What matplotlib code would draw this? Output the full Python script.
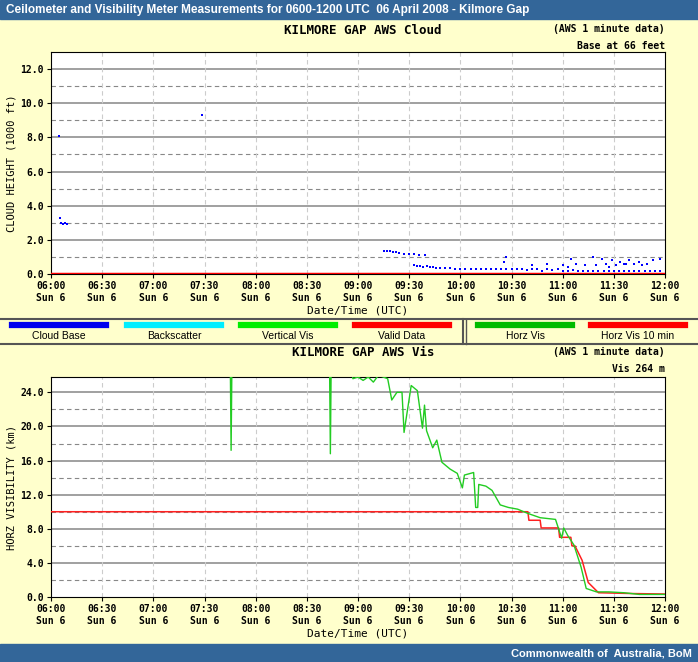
import matplotlib
matplotlib.use('Agg')
import matplotlib.pyplot as plt
import numpy as np

# ---- data (hours UTC) ----
cloud_t = [6.08, 6.09, 6.10, 6.12, 6.14, 6.16, 7.48,
           9.25, 9.28, 9.31, 9.34, 9.37, 9.40, 9.45, 9.50, 9.55, 9.60, 9.65,
           9.55, 9.58, 9.61, 9.64, 9.67, 9.70, 9.73, 9.76, 9.80, 9.85, 9.90, 9.95, 10.00,
           10.05, 10.10, 10.15, 10.20, 10.25, 10.30, 10.35, 10.40, 10.45, 10.50,
           10.55, 10.60, 10.65, 10.70, 10.75, 10.80, 10.85, 10.90, 10.95, 11.00,
           11.05, 11.10, 11.15, 11.20, 11.25, 11.30, 11.35, 11.40, 11.45, 11.50,
           11.55, 11.60, 11.65, 11.70, 11.75, 11.80, 11.85, 11.90, 11.95,
           10.43, 10.45, 11.00, 11.08, 11.13, 11.30, 11.33, 11.38, 11.42, 11.48,
           11.52, 11.56, 11.60, 11.65, 11.70, 11.75, 11.82, 11.88, 11.95,
           10.70, 10.85, 11.05, 11.22, 11.45, 11.62, 11.78]
cloud_h = [8.1, 3.3, 3.0, 2.9, 3.0, 2.9, 9.3,
           1.35, 1.35, 1.35, 1.3, 1.3, 1.25, 1.2, 1.2, 1.15, 1.1, 1.1,
           0.5, 0.45, 0.45, 0.4, 0.45, 0.4, 0.4, 0.35, 0.35, 0.35, 0.35, 0.3, 0.3,
           0.3, 0.3, 0.3, 0.3, 0.3, 0.3, 0.3, 0.3, 0.3, 0.3,
           0.3, 0.3, 0.25, 0.3, 0.3, 0.2, 0.3, 0.25, 0.3, 0.2,
           0.2, 0.25, 0.2, 0.15, 0.2, 0.2, 0.15, 0.2, 0.15, 0.2,
           0.15, 0.15, 0.15, 0.15, 0.15, 0.15, 0.15, 0.15, 0.15,
           0.7, 1.0, 0.5, 0.9, 0.6, 1.0, 0.5, 0.9, 0.6, 0.8,
           0.5, 0.7, 0.6, 0.8, 0.6, 0.7, 0.6, 0.8, 0.9,
           0.5, 0.6, 0.4, 0.5, 0.4, 0.6, 0.5]

vis_t = [6.00, 7.75, 7.76, 7.77, 7.78, 8.72, 8.73, 8.74, 8.75, 8.90, 8.95, 9.00,
         9.05, 9.10, 9.15, 9.20, 9.29, 9.33, 9.38, 9.43, 9.45, 9.52, 9.58, 9.63,
         9.65, 9.67, 9.73, 9.77, 9.82, 9.90, 9.97, 10.02, 10.04, 10.13, 10.15,
         10.17, 10.18, 10.25, 10.31, 10.39, 10.47, 10.56, 10.66, 10.78, 10.93,
         10.99, 11.01, 11.05, 11.11, 11.18, 11.23, 11.33, 11.45, 11.60, 11.75, 12.00]
vis_v = [30, 30, 17.2, 30, 30, 30, 16.8, 30, 30, 30, 25.6, 25.8,
         25.4, 25.8, 25.2, 26.0, 25.6, 23.1, 24.0, 24.0, 19.3, 24.8, 24.2, 19.8,
         22.5, 19.5, 17.5, 18.4, 15.8, 15.0, 14.5, 12.8, 14.3, 14.6, 10.5,
         10.5, 13.2, 13.0, 12.5, 10.8, 10.5, 10.3, 9.8, 9.3, 9.1,
         6.9, 8.1, 7.2, 6.1, 3.5, 1.0, 0.6, 0.6, 0.5, 0.3, 0.3]
vis10_t = [6.00, 10.66, 10.67, 10.78, 10.79, 10.96, 10.97, 11.08, 11.09, 11.12,
           11.19, 11.25, 11.35, 11.70, 12.00]
vis10_v = [10.0, 10.0, 9.0, 9.0, 8.1, 8.1, 7.0, 7.0, 6.0, 6.0,
           4.3, 1.7, 0.5, 0.4, 0.35]

xticks = np.arange(6.0, 12.01, 0.5)
xlabels = ['%02d:%02d\nSun 6' % (int(h), int(round((h % 1) * 60))) for h in xticks]

BG = '#FFFFCC'
HDR = '#336699'
MONO = 'DejaVu Sans Mono'

fig = plt.figure(figsize=(6.98, 6.62), dpi=100, facecolor=BG)
W, H = 698.0, 662.0


def box(x0, y0, x1, y1):
    return [x0 / W, 1 - y1 / H, (x1 - x0) / W, (y1 - y0) / H]


def style_axes(ax, ymax, major, minor, ylab):
    ax.set_facecolor('white')
    ax.set_xlim(6, 12)
    ax.set_ylim(0, ymax)
    for y in np.arange(minor, ymax, major):
        ax.axhline(y, color='#888888', lw=0.8, ls=(0, (4, 3)), zorder=1)
    for y in np.arange(major, ymax, major):
        ax.axhline(y, color='#999999', lw=1.3, zorder=1)
    for x in xticks[1:-1]:
        ax.axvline(x, color='#cccccc', lw=0.8, ls=(0, (4, 3)), zorder=1)
    ticks = np.arange(0, ymax, major)
    ax.set_yticks(ticks)
    ax.set_yticklabels(['%.1f' % v for v in ticks], family=MONO, fontsize=7, fontweight='bold')
    ax.set_xticks(xticks)
    ax.set_xticklabels(xlabels, family=MONO, fontsize=7, fontweight='bold')
    ax.set_ylabel(ylab, family=MONO, fontsize=7.5, labelpad=3)
    ax.set_xlabel('Date/Time (UTC)', family=MONO, fontsize=8, labelpad=2)
    ax.tick_params(length=3, pad=2)


# header / footer
fig.patches.append(plt.Rectangle((0, 1 - 19 / H), 1, 19 / H, transform=fig.transFigure,
                                 color=HDR, zorder=0))
fig.patches.append(plt.Rectangle((0, 0), 1, 18 / H, transform=fig.transFigure,
                                 color=HDR, zorder=0))
fig.text(6 / W, 1 - 10 / H, 'Ceilometer and Visibility Meter Measurements for 0600-1200 UTC  06 April 2008 - Kilmore Gap',
         color='white', fontsize=8.5, fontweight='bold', va='center', family='Liberation Sans')
fig.text(692 / W, 9 / H, 'Commonwealth of  Australia, BoM', color='white', fontsize=8,
         fontweight='bold', ha='right', va='center', family='Liberation Sans')

# cloud panel
ax1 = fig.add_axes(box(51, 52, 665, 274))
style_axes(ax1, 13, 2, 1, 'CLOUD HEIGHT (1000 ft)')
ax1.plot(cloud_t, cloud_h, ls='none', marker='s', ms=1.6, mew=0, color='#0000ff', zorder=3)
ax1.axhline(0.02, color='#ff0000', lw=2.5, zorder=4)
fig.text(363 / W, 1 - 30 / H, 'KILMORE GAP AWS Cloud', family=MONO, fontsize=9,
         fontweight='bold', ha='center', va='center')
fig.text(665 / W, 1 - 29 / H, '(AWS 1 minute data)', family=MONO, fontsize=7,
         fontweight='bold', ha='right', va='center')
fig.text(665 / W, 1 - 46 / H, 'Base at 66 feet', family=MONO, fontsize=7,
         fontweight='bold', ha='right', va='center')

# legend band
fig.add_artist(plt.Line2D([0, 1], [1 - 319 / H] * 2, color='#555555', lw=1.5))
fig.add_artist(plt.Line2D([0, 1], [1 - 344 / H] * 2, color='#555555', lw=1.5))
fig.add_artist(plt.Line2D([463 / W] * 2, [1 - 319 / H, 1 - 344 / H], color='#555555', lw=1.5))
fig.add_artist(plt.Line2D([466 / W] * 2, [1 - 319 / H, 1 - 344 / H], color='#555555', lw=1.0))
leg_names = ['Cloud Base', 'Backscatter', 'Vertical Vis', 'Valid Data', 'Horz Vis', 'Horz Vis 10 min']
leg_colors = ['#0000ee', '#00eeff', '#00ee00', '#ff0000', '#00bb00', '#ff0000']
leg_x = [59, 174, 288, 402, 525, 638]
for nm, c, x in zip(leg_names, leg_colors, leg_x):
    fig.add_artist(plt.Line2D([(x - 47) / W, (x + 47) / W], [1 - 325 / H] * 2, color=c, lw=4.5))
    fig.text(x / W, 1 - 336 / H, nm, fontsize=7.5, ha='center', va='center', family='Liberation Sans')

# vis panel
ax2 = fig.add_axes(box(51, 377, 665, 597))
style_axes(ax2, 25.8, 4, 2, 'HORZ VISIBILITY (km)')
ax2.plot(vis10_t, vis10_v, color='#ff2020', lw=1.1, zorder=3)
ax2.plot(vis_t, vis_v, color='#22cc22', lw=1.0, zorder=4)
fig.text(363 / W, 1 - 353 / H, 'KILMORE GAP AWS Vis', family=MONO, fontsize=9,
         fontweight='bold', ha='center', va='center')
fig.text(665 / W, 1 - 352 / H, '(AWS 1 minute data)', family=MONO, fontsize=7,
         fontweight='bold', ha='right', va='center')
fig.text(665 / W, 1 - 369 / H, 'Vis 264 m', family=MONO, fontsize=7,
         fontweight='bold', ha='right', va='center')

fig.savefig('out.png', dpi=100, facecolor=BG)
